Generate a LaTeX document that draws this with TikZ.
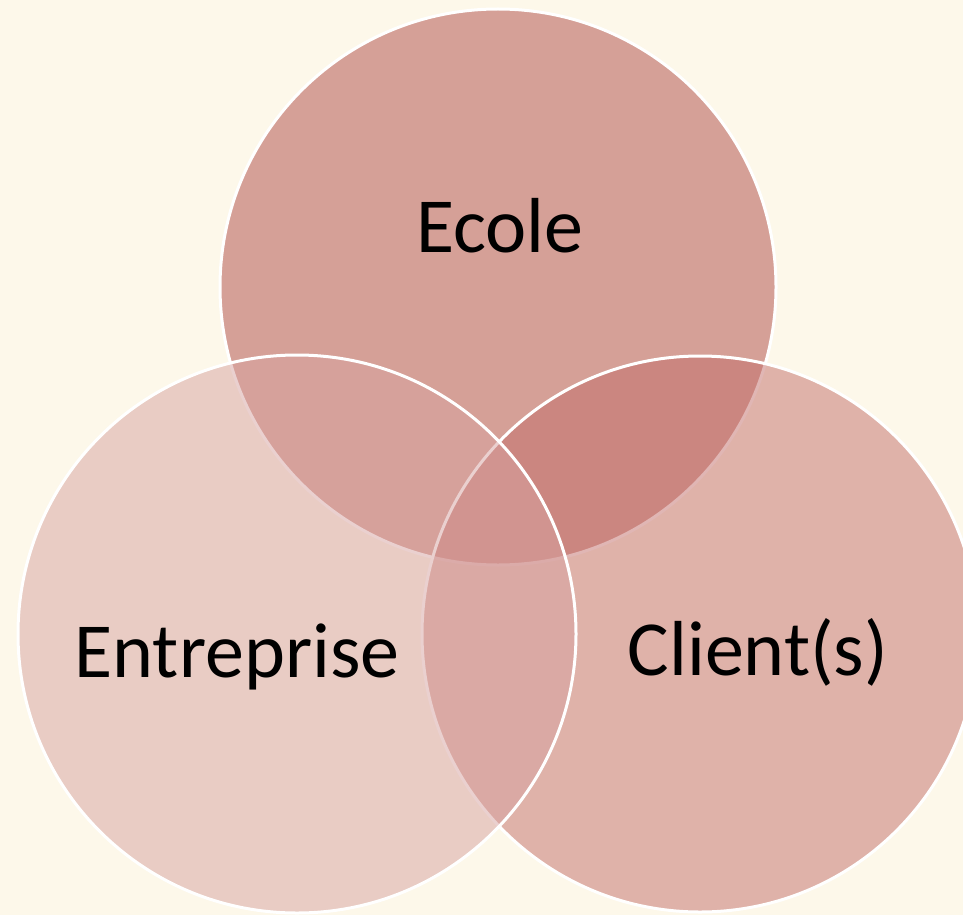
\documentclass[tikz,border=0pt]{standalone}
\usepackage{fontspec}
\setmainfont{Carlito}
\usepackage{tikz}

\definecolor{bgcream}{RGB}{253,248,234}
\definecolor{ecolecol}{RGB}{213,160,151}
\definecolor{clientcol}{RGB}{195,110,106}
\definecolor{entrecol}{RGB}{215,162,160}

\begin{document}
\begin{tikzpicture}[x=1pt,y=-1pt]
    \useasboundingbox (0,0) rectangle (963,915);
    \fill[bgcream] (0,0) rectangle (963,915);

    % First circle (Ecole)
    \filldraw[fill=ecolecol, draw=white, line width=3pt] (498,287) circle (278pt);

    % Second circle (Client(s)), see-through
    \filldraw[fill=clientcol, fill opacity=0.5, draw=white, line width=3pt] (700,634) circle (278pt);

    % Third circle (Entreprise), see-through
    \filldraw[fill=entrecol, fill opacity=0.5, draw=white, line width=3pt] (297,634) circle (279pt);

    % labels
    \node [anchor=base, font=\fontsize{78}{94}\selectfont] (ecole) at (500,252) {Ecole};
    \node [anchor=base, font=\fontsize{78}{94}\selectfont] (entreprise) at (237,677) {Entreprise};
    \node [anchor=base, font=\fontsize{78}{94}\selectfont] (client) at (758,675) {Client(s)};
\end{tikzpicture}
\end{document}
